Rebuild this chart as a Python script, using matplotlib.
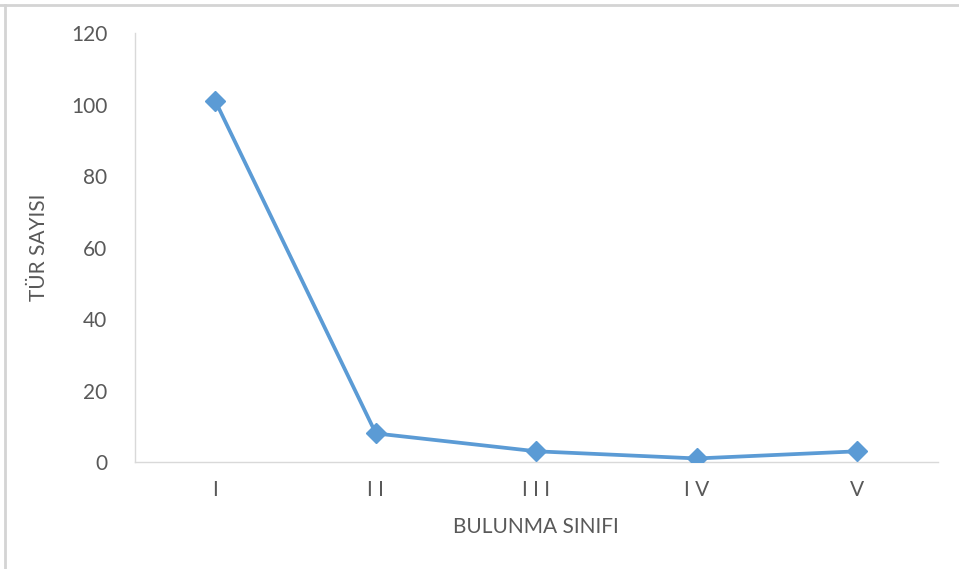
import matplotlib
matplotlib.use("Agg")
import matplotlib.pyplot as plt
from matplotlib.lines import Line2D

# Data
classes = ["I", "I I", "I I I", "I V", "V"]
species_counts = [101, 8, 3, 1, 3]
y_ticks = [0, 20, 40, 60, 80, 100, 120]

plt.rcParams["font.family"] = ["Lato", "DejaVu Sans"]

fig = plt.figure(figsize=(9.59, 5.69), dpi=100)
ax = fig.add_axes([0.1408, 0.188, 0.837, 0.754])

x = list(range(len(classes)))
ax.plot(x, species_counts, color="#5B9BD5", linewidth=2.7,
        marker="D", markersize=10, markerfacecolor="#5B9BD5",
        markeredgecolor="#5B9BD5", solid_capstyle="round", zorder=3)

ax.set_xlim(-0.5, len(classes) - 0.5)
ax.set_ylim(0, 120)
ax.set_yticks(y_ticks)
ax.set_xticks(x)
ax.set_xticklabels(classes)

for side in ["top", "right"]:
    ax.spines[side].set_visible(False)
for side in ["left", "bottom"]:
    ax.spines[side].set_color("#D9D9D9")
    ax.spines[side].set_linewidth(1.0)

ax.tick_params(axis="both", length=0, labelsize=15, labelcolor="#595959")
ax.tick_params(axis="y", pad=20)
ax.tick_params(axis="x", pad=13)

ax.set_xlabel("BULUNMA SINIFI", fontsize=15, color="#595959", labelpad=12)
ax.set_ylabel("TÜR SAYISI", fontsize=15, color="#595959", labelpad=16)

# Outer frame lines along the top and left edges
fig.add_artist(Line2D([0.0, 1.0], [1 - 5 / 569, 1 - 5 / 569], transform=fig.transFigure,
                      color="#D4D4D4", linewidth=2.0))
fig.add_artist(Line2D([5 / 959, 5 / 959], [0.0, 1 - 5 / 569], transform=fig.transFigure,
                      color="#D4D4D4", linewidth=2.0))

fig.savefig("out.png", dpi=100)
